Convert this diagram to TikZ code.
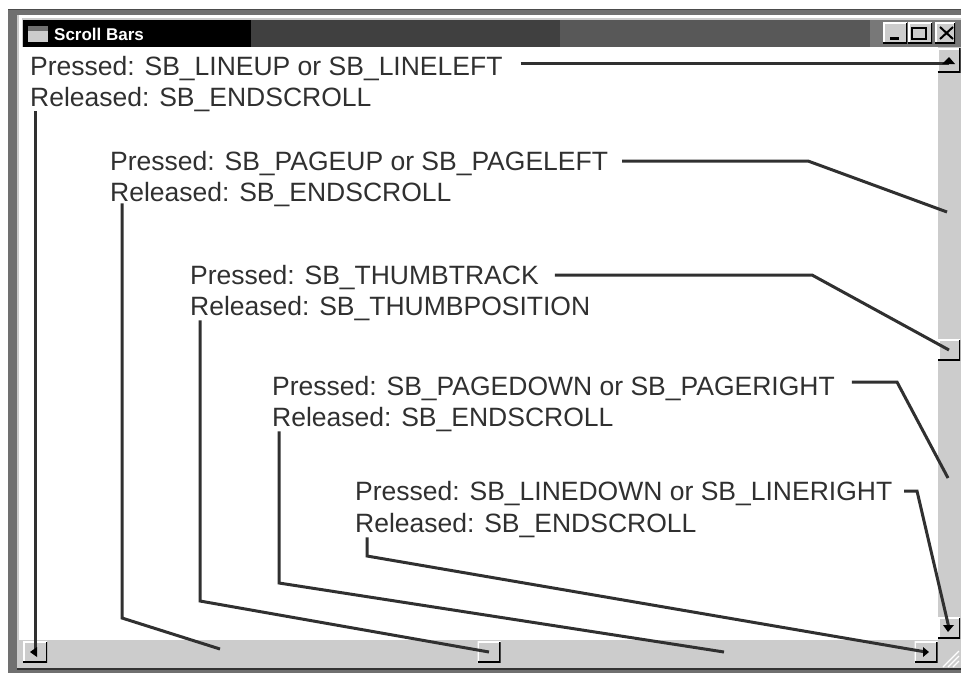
\documentclass[tikz,border=0pt]{standalone}
\usepackage{fontspec}
\setmainfont{Liberation Sans}
\definecolor{ink}{HTML}{303030}
\definecolor{btngray}{HTML}{CCCCCC}
\definecolor{frameedge}{HTML}{707070}
\definecolor{bandA}{HTML}{404040}
\definecolor{bandB}{HTML}{585858}
\definecolor{bandC}{HTML}{787878}
\tikzset{
  msg/.style={anchor=base west,inner sep=0pt,text=ink,font=\fontsize{26.5}{30}\selectfont},
  conn/.style={draw=ink,line width=3pt,line join=miter},
  bevel/.style={fill=btngray,inner sep=0pt,minimum width=#1,minimum height=21pt,
    path picture={
      \draw[white,line width=3pt] (path picture bounding box.south west) -- (path picture bounding box.north west) -- (path picture bounding box.north east);
      \draw[black,line width=3pt] (path picture bounding box.south west) -- (path picture bounding box.south east) -- (path picture bounding box.north east);
    }},
  bevel/.default=22pt,
  tip/.style={fill=black},
}
\begin{document}
\begin{tikzpicture}[x=1pt,y=-1pt]
\useasboundingbox (0,0) rectangle (961,673);
\fill[white] (0,0) rectangle (961,673);
% window frame
\fill[frameedge] (8,9) rectangle (961,673);
\fill[black!70] (8,9) rectangle (961,10);
\fill[btngray] (17,15) rectangle (961,668);
\fill[white] (19,15) rectangle (961,18);
\fill[white] (19,15) rectangle (22,640);
\fill[black!80] (17,668) rectangle (961,670);
% title bar
\fill[black] (23,20) rectangle (251,47);
\fill[bandA] (251,20) rectangle (560,47);
\fill[bandB] (560,20) rectangle (870,47);
\fill[bandC] (870,20) rectangle (961,47);
\fill[btngray] (28,26) rectangle (48,42);
\fill[frameedge] (28,26) rectangle (48,31);
\node[anchor=base west,inner sep=0pt,text=white,font=\fontsize{17}{19}\selectfont\bfseries] (title) at (54,40) {Scroll Bars};
% client area and bars
\fill[white] (22,47) rectangle (938,640);
\fill[btngray] (938,47) rectangle (961,640);
\fill[btngray] (22,640) rectangle (961,668);
\foreach \i in {0,1,2}
  \draw[white,line width=1.2pt] (943+5*\i,667) -- (959,651+5*\i);
% caption buttons
\node[bevel=24pt] (btnmin) at (895,33) {};
\node[bevel=24pt] (btnmax) at (920,33) {};
\node[bevel=20pt] (btnclose) at (945,33) {};
\fill[black] (890,37) rectangle (899,39.5);
\draw[black,line width=2pt] (912,28) rectangle (926,39);
\draw[black,line width=2pt] (940,27) -- (953,39) (953,27) -- (940,39);
% scroll buttons
\node[bevel=23pt,minimum height=24pt] (btnup) at (949,60) {};
\node[bevel=22pt] (btnthumbv) at (949,350) {};
\node[bevel=22pt] (btndown) at (949,628) {};
\node[bevel=24pt] (btnleft) at (35,652) {};
\node[bevel=23pt] (btnthumbh) at (489,652) {};
\node[bevel=23pt] (btnright) at (926,652) {};
% messages
\foreach \nm/\px/\py/\txt in {
  lineup/30/75/{Pressed: SB\_LINEUP or SB\_LINELEFT},
  relA/30/106/{Released: SB\_ENDSCROLL},
  pageup/110/170/{Pressed: SB\_PAGEUP or SB\_PAGELEFT},
  relB/110/201/{Released: SB\_ENDSCROLL},
  track/190/284/{Pressed: SB\_THUMBTRACK},
  relC/190/315/{Released: SB\_THUMBPOSITION},
  pagedown/272/395/{Pressed: SB\_PAGEDOWN or SB\_PAGERIGHT},
  relD/272/426/{Released: SB\_ENDSCROLL},
  linedown/355/500/{Pressed: SB\_LINEDOWN or SB\_LINERIGHT},
  relE/355/532/{Released: SB\_ENDSCROLL}} {
  \node[msg] (\nm) at (\px,\py) {\txt};
}
% free ends and bends
\coordinate (lineupend) at (949,63);
\coordinate (pageupbend) at (808,161);
\coordinate (pageupend) at (947,212);
\coordinate (trackbend) at (812,275);
\coordinate (pagedownbend) at (897,382);
\coordinate (pagedownend) at (948,478);
\coordinate (linedownbend) at (917,491);
\coordinate (relBbend) at (122,618);
\coordinate (relBend) at (220,649);
\coordinate (relCbend) at (200,601);
\coordinate (relDbend) at (279,583);
\coordinate (relDend) at (724,652);
\coordinate (relEbend) at (367,556);
% connectors
\draw[conn] ([xshift=18pt]lineup.east |- lineupend) -- (lineupend);
\draw[conn] ([xshift=5pt]relA.south west) -- (btnleft.center);
\draw[conn] ([xshift=14pt]pageup.east |- pageupbend) -- (pageupbend) -- (pageupend);
\draw[conn] ([xshift=12pt,yshift=3pt]relB.south west) -- (relBbend) -- (relBend);
\draw[conn] ([xshift=16pt]track.east |- trackbend) -- (trackbend) -- (btnthumbv.center);
\draw[conn] ([xshift=10pt]relC.south west) -- (relCbend) -- (btnthumbh.center);
\draw[conn] ([xshift=17pt]pagedown.east |- pagedownbend) -- (pagedownbend) -- (pagedownend);
\draw[conn] ([xshift=7pt]relD.south west) -- (relDbend) -- (relDend);
\draw[conn] ([xshift=-13pt]linedownbend) -- (linedownbend) -- (btndown.center);
\draw[conn] ([xshift=12pt]relE.south west) -- (relEbend) -- (btnright.center);
% arrow glyphs
\fill[tip] (949,57) -- (955,64) -- (942,64) -- cycle;
\fill[tip] (948,632) -- (943,625) -- (954,625) -- cycle;
\fill[tip] (30,652) -- (37,647) -- (37,657) -- cycle;
\fill[tip] (929,652) -- (923,647) -- (923,657) -- cycle;
\end{tikzpicture}
\end{document}
